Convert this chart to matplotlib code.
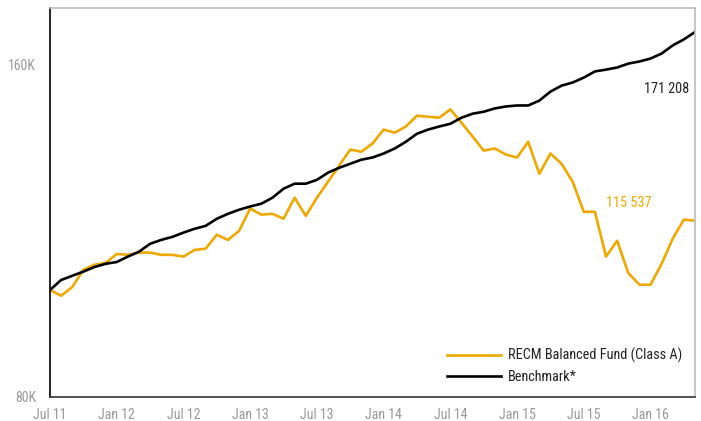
import matplotlib
matplotlib.use('Agg')
import matplotlib.pyplot as plt
from matplotlib import font_manager
from matplotlib.ticker import FixedLocator, NullLocator

# monthly values, Jul 2011 - May 2016 (growth of 100K)
fund = [100.0, 98.8, 100.6, 104.3, 105.4, 105.8, 107.8, 107.6, 108.1, 108.1,
        107.6, 107.6, 107.2, 108.7, 109.0, 112.2, 111.0, 113.1, 118.5, 117.0,
        117.2, 116.0, 121.2, 116.7, 121.2, 125.3, 129.6, 134.0, 133.4, 135.7,
        139.7, 138.8, 140.6, 143.8, 143.5, 143.2, 145.7, 141.7, 137.7, 133.7,
        134.3, 132.6, 131.8, 136.2, 127.4, 132.9, 130.1, 125.3, 117.7, 117.7,
        107.2, 110.8, 103.6, 101.1, 101.1, 105.6, 111.3, 115.8, 115.537]
benchmark = [100.0, 102.1, 103.0, 103.9, 104.9, 105.6, 106.0, 107.2, 108.3, 110.1,
             111.0, 111.7, 112.7, 113.6, 114.3, 116.0, 117.2, 118.2, 119.0, 119.7,
             121.2, 123.5, 124.8, 124.8, 125.8, 127.7, 129.0, 130.1, 131.2, 131.8,
             132.9, 134.3, 136.2, 138.5, 139.7, 140.6, 141.4, 143.2, 144.4, 145.0,
             146.0, 146.6, 146.9, 146.9, 148.4, 151.2, 153.1, 154.1, 155.7, 157.7,
             158.3, 159.0, 160.3, 161.0, 162.0, 163.7, 166.5, 168.6, 171.208]
tick_labels = ['Jul 11', 'Jan 12', 'Jul 12', 'Jan 13', 'Jul 13',
               'Jan 14', 'Jul 14', 'Jan 15', 'Jul 15', 'Jan 16']
y_ticks = [80, 160]
y_labels = ['80K', '160K']

orange = '#EFA800'

# pick a narrow font if one is installed
installed = {f.name for f in font_manager.fontManager.ttflist}
narrow = None
for name in ['Liberation Sans Narrow', 'Roboto Condensed', 'DejaVu Sans Condensed',
             'Open Sans Condensed', 'Noto Sans Condensed']:
    if name in installed:
        narrow = name
        break
if narrow:
    plt.rcParams['font.family'] = [narrow, 'DejaVu Sans']
    fs = 10
else:
    plt.rcParams['font.family'] = ['DejaVu Sans']
    plt.rcParams['font.stretch'] = 'condensed'
    fs = 8.5

fig = plt.figure(figsize=(7.01, 4.21), dpi=100)
ax = fig.add_axes([50 / 701, 24 / 421, 645 / 701, 389 / 421])

months = list(range(len(fund)))
ax.plot(months, fund, color=orange, lw=1.9, label='RECM Balanced Fund (Class A)')
ax.plot(months, benchmark, color='black', lw=1.9, label='Benchmark*')

ax.set_yscale('log')
ax.set_ylim(80, 180)
ax.set_xlim(0, len(fund) - 1)
ax.yaxis.set_major_locator(FixedLocator(y_ticks))
ax.yaxis.set_minor_locator(NullLocator())
ax.set_yticklabels(y_labels)
ax.set_xticks(range(0, 6 * len(tick_labels), 6))
ax.set_xticklabels(tick_labels)
ax.tick_params(axis='both', length=0, colors='#999999', labelsize=fs)
ax.tick_params(axis='y', pad=10)
ax.tick_params(axis='x', pad=8)

for s in ['top', 'right']:
    ax.spines[s].set_color('#bbbbbb')
ax.spines['left'].set_color('black')
ax.spines['bottom'].set_color('#333333')
for s in ax.spines.values():
    s.set_linewidth(1.2)

ax.annotate('171 208', (months[-1], benchmark[-1]), xytext=(-4, -41),
            textcoords='offset points', ha='right', va='center',
            color='#222222', fontsize=fs + 0.3)
ax.annotate('115 537', (months[-1], fund[-1]), xytext=(-31, 13),
            textcoords='offset points', ha='right', va='center',
            color=orange, fontsize=fs + 0.3)

leg = ax.legend(loc='lower right', frameon=False, fontsize=fs + 0.3, handlelength=3.8,
                handletextpad=0.45, labelspacing=0.5, borderaxespad=0.5)
for t in leg.get_texts():
    t.set_color('#222222')

fig.savefig('out.png', dpi=100)
